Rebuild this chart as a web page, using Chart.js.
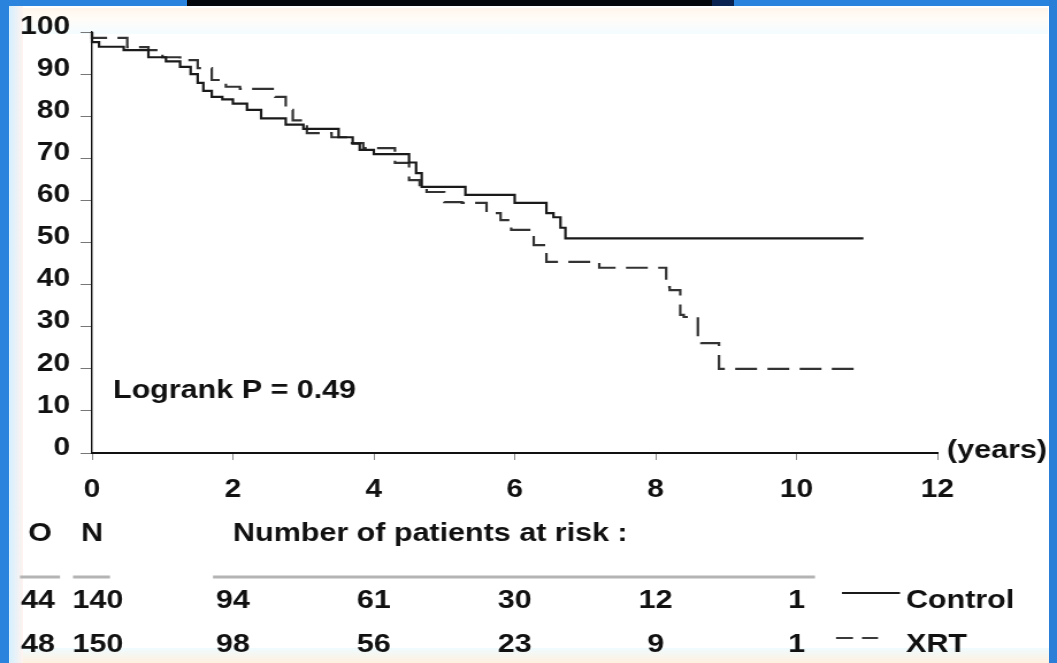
<!DOCTYPE html>
<html>
<head>
<meta charset="utf-8">
<script src="https://cdn.jsdelivr.net/npm/chart.js@4"></script>
<style>
  html, body { margin: 0; padding: 0; }
  body { width: 1057px; height: 663px; position: relative; overflow: hidden; background: #fff; }
  .frame { position: absolute; }
  canvas { position: absolute; left: 0; top: 0; }
</style>
</head>
<body>
<div class="frame" style="left:12px;top:8px;width:1036px;height:26px;background:linear-gradient(#fff6ec,#fffcf8 45%,#f3fcff)"></div>
<div class="frame" style="left:9px;top:648px;width:1040px;height:15px;background:linear-gradient(#effbff,#fff0df)"></div>
<div class="frame" style="left:9px;top:6px;width:14px;height:657px;background:linear-gradient(90deg,#d3f0ff,#fff3ef)"></div>
<div class="frame" style="left:0;top:0;width:1057px;height:6px;background:#2a83dc"></div>
<div class="frame" style="left:187px;top:0;width:525px;height:6px;background:#04070c"></div>
<div class="frame" style="left:712px;top:0;width:22px;height:6px;background:#0b2350"></div>
<div class="frame" style="left:0;top:0;width:9px;height:663px;background:#2a83dc"></div>
<div class="frame" style="left:1049px;top:0;width:8px;height:663px;background:#2c7fd6"></div>
<canvas id="kmChart" width="919" height="663" style="width:1057px;height:663px"></canvas>
<script>
// survival curves (years, % surviving)
var controlTimes = [0, 0.1, 0.45, 0.8, 1.05, 1.25, 1.4, 1.5, 1.58, 1.7, 1.85, 2.0, 2.2, 2.4, 2.75, 3.0, 3.5, 3.7, 3.8, 4.0, 4.5, 4.6, 4.68, 5.3, 6.0, 6.45, 6.55, 6.65, 6.72, 6.8, 10.95];
var controlSurvival = [100, 97.6, 96.5, 95.7, 94, 93, 91.7, 90, 87.9, 86, 84.6, 84, 83, 81.5, 79.5, 78, 77, 75, 73.5, 72, 71, 69, 66.5, 63.2, 61.3, 59.4, 57, 56, 53.5, 51, 51];
var xrtTimes = [0, 0.5, 0.8, 1.0, 1.25, 1.5, 1.7, 1.9, 2.1, 2.6, 2.75, 2.85, 3.05, 3.4, 3.65, 3.85, 4.3, 4.5, 4.65, 4.75, 5.0, 5.25, 5.6, 5.8, 5.95, 6.27, 6.45, 7.2, 8.15, 8.2, 8.35, 8.4, 8.6, 8.65, 8.9, 8.95, 10.95];
var xrtSurvival = [100, 98.6, 96.4, 95.7, 94, 93.3, 91.4, 88.6, 87, 86.5, 84.6, 81.5, 79, 76, 75, 73.6, 72.4, 68.9, 64.8, 62.9, 62, 59.6, 59.4, 57, 55.3, 53, 49.4, 45.4, 44, 39.4, 38.7, 32.8, 32.3, 26.4, 26.1, 20, 20];

// numbers at risk table
var riskTimes = [2, 4, 6, 8, 10];
var controlAtRisk = [94, 61, 30, 12, 1];
var xrtAtRisk = [98, 56, 23, 9, 1];
var groupNames = ['Control', 'XRT'];
var observed = [44, 48];
var totals = [140, 150];
var pValueText = 'Logrank P = 0.49';

// canvas is drawn narrower and stretched by css, like the wide lettering of the slide
var SX = 1057 / 919;
function px(x) { return x / SX; }

var FONT = '"Liberation Sans", Arial, sans-serif';

function toPoints(times, values) {
    return times.map(function(t, i) { return { x: t, y: values[i] }; });
}

var riskTable = {
    id: 'riskTable',
    afterDraw: function(chart) {
        var ctx = chart.ctx;
        var xs = chart.scales.x;
        ctx.save();
        ctx.fillStyle = '#111';
        ctx.textBaseline = 'middle';
        ctx.font = 'bold 26.5px ' + FONT;

        ctx.textAlign = 'left';
        ctx.fillText(pValueText, px(113), 391);
        ctx.fillText('(years)', px(947), 451);
        ctx.fillText('Number of patients at risk :', px(233), 534);

        ctx.textAlign = 'center';
        ctx.fillText('O', px(40), 534);
        ctx.fillText('N', xs.getPixelForValue(0), 534);

        ctx.strokeStyle = '#b4b4b4';
        ctx.lineWidth = 3;
        [[20, 60], [73, 110], [213, 815]].forEach(function(seg) {
            ctx.beginPath();
            ctx.moveTo(px(seg[0]), 577);
            ctx.lineTo(px(seg[1]), 577);
            ctx.stroke();
        });

        var rows = [controlAtRisk, xrtAtRisk];
        var rowY = [601, 645];
        rows.forEach(function(row, r) {
            ctx.textAlign = 'center';
            ctx.fillText(String(observed[r]), px(38), rowY[r]);
            ctx.fillText(String(totals[r]), px(98), rowY[r]);
            row.forEach(function(n, i) {
                ctx.fillText(String(n), xs.getPixelForValue(riskTimes[i]), rowY[r]);
            });
            ctx.textAlign = 'left';
            ctx.fillText(groupNames[r], px(906), rowY[r]);
        });

        // legend keys
        ctx.strokeStyle = '#1a1a1a';
        ctx.lineWidth = 2;
        ctx.beginPath();
        ctx.moveTo(px(842), 593);
        ctx.lineTo(px(900), 593);
        ctx.stroke();
        ctx.strokeStyle = '#3a3a3a';
        [[836, 853], [862, 878]].forEach(function(seg) {
            ctx.beginPath();
            ctx.moveTo(px(seg[0]), 638);
            ctx.lineTo(px(seg[1]), 638);
            ctx.stroke();
        });
        ctx.restore();
    }
};

var tickFont = { family: FONT, size: 26, weight: 'bold' };

new Chart(document.getElementById('kmChart'), {
    type: 'line',
    data: {
        datasets: [
            {
                label: groupNames[0],
                data: toPoints(controlTimes, controlSurvival),
                borderColor: '#1a1a1a',
                borderWidth: 2.2,
                stepped: 'after',
                pointRadius: 0,
                fill: false,
                clip: false
            },
            {
                label: groupNames[1],
                data: toPoints(xrtTimes, xrtSurvival),
                borderColor: '#333',
                borderWidth: 2.2,
                borderDash: [19, 9],
                stepped: 'after',
                pointRadius: 0,
                fill: false,
                clip: false
            }
        ]
    },
    options: {
        responsive: false,
        animation: false,
        devicePixelRatio: 1,
        layout: { padding: { left: 0, right: 104, top: 32, bottom: 0 } },
        plugins: {
            legend: { display: false },
            tooltip: { enabled: false }
        },
        scales: {
            x: {
                type: 'linear',
                min: 0,
                max: 12,
                ticks: { stepSize: 2, color: '#111', font: tickFont, padding: 14, maxRotation: 0 },
                grid: { drawOnChartArea: false, tickLength: 7, color: '#888' },
                border: { color: '#111', width: 2 },
                afterFit: function(scale) { scale.height = 210; }
            },
            y: {
                min: 0,
                max: 100,
                ticks: {
                    stepSize: 10,
                    color: '#111',
                    padding: 9,
                    font: { family: FONT, size: 26, weight: 'bold', lineHeight: 0.42 },
                    // second empty line lifts the label a little above its tick
                    callback: function(v) { return [String(v), '']; }
                },
                grid: { drawOnChartArea: false, tickLength: 10, color: '#777' },
                border: { color: '#111', width: 1.4 },
                afterFit: function(scale) { scale.width = 80; }
            }
        }
    },
    plugins: [riskTable]
});
</script>
</body>
</html>
